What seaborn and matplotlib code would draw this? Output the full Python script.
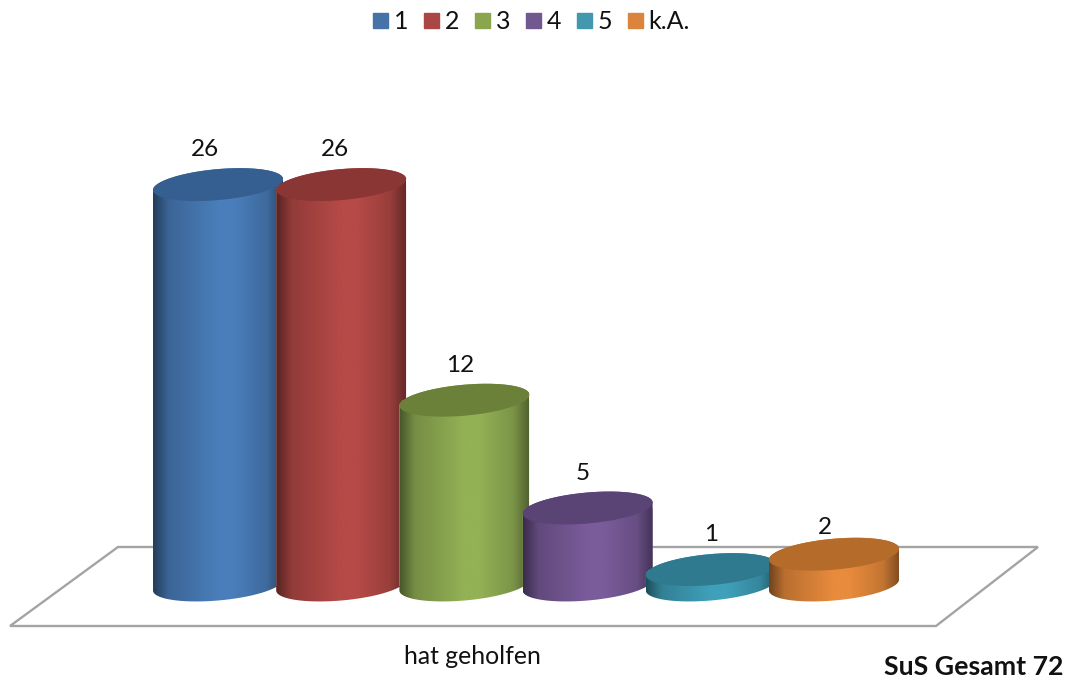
import numpy as np
import matplotlib
matplotlib.use('Agg')
import matplotlib.pyplot as plt
from matplotlib.colors import to_rgb
from matplotlib.patches import Polygon
import seaborn as sns

# Datos
categorias = ['1', '2', '3', '4', '5', 'k.A.']
valores = [26, 26, 12, 5, 1, 2]
colores_leyenda = ['#4572a7', '#aa4643', '#89a54e', '#71588f', '#4198af', '#db843d']
colores_cuerpo = ['#4a7ebb', '#b64a47', '#93b155', '#7a5c9b', '#3fa0ba', '#e88b3c']
colores_tapa = ['#365f91', '#8a3634', '#6b8139', '#5a4375', '#2f7a8e', '#b56b2a']
etiqueta_eje = 'hat geholfen'
nota = 'SuS Gesamt 72'

sns.set_theme(style='white')
plt.rcParams['font.family'] = ['Lato', 'DejaVu Sans']

fig = plt.figure(figsize=(10.7, 6.81), dpi=100)
ax = fig.add_axes([0, 0, 1, 1])

sns.barplot(x=categorias, y=valores, hue=categorias, palette=colores_leyenda,
            width=1.055, dodge=False, legend=False, saturation=1, ax=ax)
barras = list(ax.patches)

# Escala: un valor = 15.4 px, una categoría = 123.2 px
xlim = (-218 / 123.2, (1070 - 218) / 123.2)
ylim = ((585 - 681) / 15.4, 585 / 15.4)

# Suelo del gráfico
suelo = [(118, 547), (1038, 547), (936, 626), (10, 626)]
ax.add_patch(Polygon([(x / 1070, 1 - y / 681) for x, y in suelo], closed=True, fill=False,
                     edgecolor='#a4a4a4', linewidth=1.7, transform=ax.transAxes, zorder=1))

# Medidas de la elipse en unidades de datos
b = 15.5 / 15.4
k = 5.5 / 15.4
t = np.linspace(0, 2 * np.pi, 200)
tonos = np.array([0.48, 0.80, 1.0, 1.0, 0.84, 0.56])
pos_tonos = [0, 0.12, 0.5, 0.62, 0.88, 1]
desplaza_x = [-13, -6, -4.5, -4.5, 0, -9]
desplaza_y = [25, 25, 25, 25, 25, 19]


def elipse(cx, cy, a):
    return np.column_stack([cx + a * np.cos(t), cy + b * np.sin(t) + k * np.cos(t)])


for i, bar in enumerate(barras):
    a = bar.get_width() / 2
    cx = bar.get_x() + a
    alto = bar.get_height()
    z = 3 + i

    # Cuerpo del cilindro: lado inferior de la base + lado inferior de la tapa
    mitad = np.linspace(0, np.pi, 100)
    abajo = np.column_stack([cx + a * np.cos(mitad), -b * np.sin(mitad) + k * np.cos(mitad)])
    arriba = np.column_stack([cx + a * np.cos(mitad[::-1]), alto + b * np.sin(mitad[::-1]) + k * np.cos(mitad[::-1])])
    forma = Polygon(np.vstack([abajo, arriba]), closed=True, transform=ax.transData)

    bar.set_clip_path(forma)
    bar.set_zorder(z)

    # Degradado horizontal
    xs = np.linspace(0, 1, 256)
    rgb = np.array(to_rgb(colores_cuerpo[i]))
    grad = np.interp(xs, pos_tonos, tonos)[None, :, None] * rgb
    img = ax.imshow(grad, extent=(cx - a, cx + a, -2 * b, alto + 2 * b), aspect='auto',
                    origin='lower', zorder=z + 0.1, interpolation='bilinear')
    img.set_clip_path(forma)

    # Tapa
    ax.add_patch(Polygon(elipse(cx, alto, a), closed=True, facecolor=colores_tapa[i],
                         edgecolor='none', zorder=z + 0.2))

    ax.annotate(str(valores[i]), (cx, alto), xytext=(desplaza_x[i] * 0.72, desplaza_y[i]),
                textcoords='offset points', ha='center', va='center', fontsize=17.5,
                color='#111111', zorder=20)

ax.set_xlim(xlim)
ax.set_ylim(ylim)
ax.axis('off')

# Leyenda
manejadores = [plt.Rectangle((0, 0), 1, 1, color=c) for c in colores_leyenda]
fig.legend(manejadores, categorias, loc='center', bbox_to_anchor=(0.4965, 0.968), ncol=6, frameon=False,
           fontsize=18, handlelength=0.6, handleheight=0.6, handletextpad=0.24,
           columnspacing=0.62, labelcolor='#111111')

fig.text(472 / 1070, 1 - 657 / 681, etiqueta_eje, ha='center', va='center', fontsize=17.8, color='#111111')
fig.text(1064 / 1070, 1 - 667 / 681, nota, ha='right', va='center', fontsize=19.2, fontweight='bold', color='#111111')

fig.savefig('out.png', dpi=100)
